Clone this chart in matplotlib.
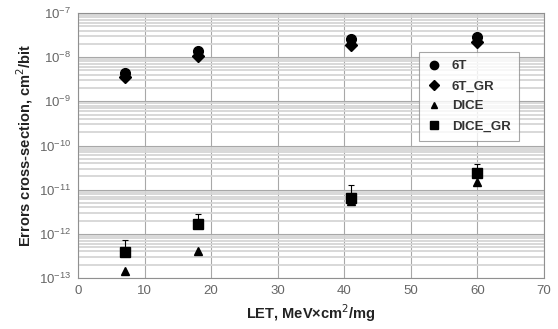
import numpy as np
import matplotlib
matplotlib.use('Agg')
import matplotlib.pyplot as plt
from matplotlib.ticker import LogLocator, NullFormatter
from matplotlib.lines import Line2D

# LET values (MeV*cm2/mg)
let = [7, 18, 41, 60]

# cross-section values, cm2/bit
sigma_6t = [4.3e-9, 1.35e-8, 2.6e-8, 2.9e-8]
sigma_6t_gr = [3.5e-9, 1.05e-8, 1.9e-8, 2.25e-8]
sigma_dice = [1.45e-13, 4.1e-13, 5.5e-12, 1.5e-11]
sigma_dice_gr = [3.8e-13, 1.67e-12, 6.6e-12, 2.4e-11]
sigma_dice_gr_top = [7.3e-13, 2.8e-12, 1.28e-11, 3.8e-11]

plt.rcParams['font.family'] = ['Liberation Sans', 'DejaVu Sans']

fig = plt.figure(figsize=(5.58, 3.29), dpi=100)
ax = fig.add_axes([78 / 558, 1 - 278 / 329, 466 / 558, 265 / 329])

ax.set_yscale('log')
ax.set_xlim(0, 70)
ax.set_ylim(1e-13, 1e-7)

ax.yaxis.set_major_locator(LogLocator(base=10, numticks=10))
ax.yaxis.set_minor_locator(LogLocator(base=10, subs=np.arange(2, 10), numticks=20))
ax.yaxis.set_minor_formatter(NullFormatter())
ax.set_xticks(np.arange(0, 71, 10))

ax.grid(True, which='major', axis='both', color='#a8a8a8', linewidth=0.8)
ax.grid(True, which='minor', axis='y', color='#d6d6d6', linewidth=1.3)
ax.set_axisbelow(True)

for s in ax.spines.values():
    s.set_color('#909090')
    s.set_linewidth(0.8)
ax.tick_params(which='major', length=0, labelsize=9.5, colors='#666666', pad=5)
ax.tick_params(which='minor', length=0, labelleft=False, labelbottom=False)

ms = 7
ax.plot(let, sigma_6t, 'o', color='black', markersize=ms)
ax.plot(let, sigma_6t_gr, 'D', color='black', markersize=ms - 1)
ax.plot(let, sigma_dice, '^', color='black', markersize=ms - 1)
up = [t - v for t, v in zip(sigma_dice_gr_top, sigma_dice_gr)]
ax.errorbar(let, sigma_dice_gr, yerr=[[0] * len(up), up], fmt='s',
            color='black', markersize=ms, elinewidth=0.8, capsize=2,
            capthick=0.8)

ax.set_xlabel('LET, MeV\u00d7cm$^2$/mg', fontsize=10.5, fontweight='bold',
              color='#222222', labelpad=4)
ax.set_ylabel('Errors cross-section, cm$^2$/bit', fontsize=10.5,
              fontweight='bold', color='#222222', labelpad=3)

handles = [
    Line2D([], [], marker='o', ls='none', color='black', markersize=6),
    Line2D([], [], marker='D', ls='none', color='black', markersize=5),
    Line2D([], [], marker='^', ls='none', color='black', markersize=5),
    Line2D([], [], marker='s', ls='none', color='black', markersize=6),
]
labels = ['6T', '6T_GR', 'DICE', 'DICE_GR']
leg = ax.legend(handles, labels, loc='upper left',
                bbox_to_anchor=((419 - 78) / 466, (278 - 52) / 265),
                frameon=True, fancybox=False, edgecolor='#909090',
                prop={'weight': 'bold', 'size': 9.5}, labelspacing=0.6,
                handletextpad=0.9, borderpad=0.6, handlelength=1.0,
                borderaxespad=0)
leg.get_frame().set_linewidth(0.8)
for t in leg.get_texts():
    t.set_color('#333333')

fig.savefig('out.png', dpi=100)
